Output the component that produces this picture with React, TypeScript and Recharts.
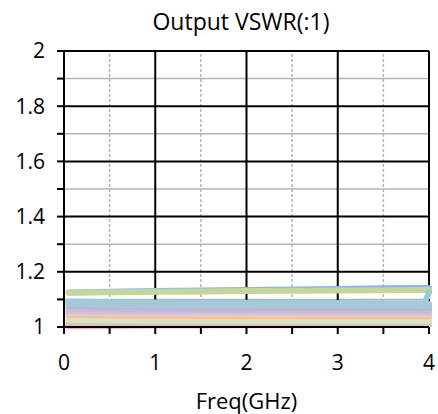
import { LineChart, Line, XAxis, YAxis, ReferenceLine } from "recharts";

const freq = [0.05, 0.5, 1, 1.5, 2, 2.5, 3, 3.5, 3.95, 4];

const SERIES = [
  { name: "s1", color: "#8eb4e3", values: [1.125, 1.128, 1.13, 1.132, 1.134, 1.136, 1.138, 1.14, 1.141, 1.141] },
  { name: "s2", color: "#c3d69b", values: [1.124, 1.126, 1.128, 1.129, 1.13, 1.131, 1.132, 1.133, 1.134, 1.134] },
  { name: "s3", color: "#e6b9b8", values: [1.003, 1.004, 1.005, 1.005, 1.006, 1.006, 1.007, 1.008, 1.008, 1.008] },
  { name: "s4", color: "#dcc3c2", values: [1.012, 1.011, 1.011, 1.012, 1.012, 1.013, 1.013, 1.014, 1.014, 1.014] },
  { name: "s5", color: "#d7e4bd", values: [1.026, 1.024, 1.023, 1.023, 1.022, 1.022, 1.022, 1.022, 1.022, 1.022] },
  { name: "s6", color: "#d9e2c6", values: [1.034, 1.032, 1.031, 1.03, 1.03, 1.029, 1.029, 1.029, 1.029, 1.029] },
  { name: "s7", color: "#fac090", values: [1.044, 1.042, 1.041, 1.04, 1.04, 1.04, 1.039, 1.039, 1.039, 1.039] },
  { name: "s8", color: "#e8c8c8", values: [1.05, 1.049, 1.048, 1.047, 1.047, 1.046, 1.046, 1.046, 1.046, 1.046] },
  { name: "s9", color: "#ccc1da", values: [1.058, 1.057, 1.056, 1.056, 1.055, 1.055, 1.055, 1.054, 1.054, 1.054] },
  { name: "s10", color: "#c7bcd8", values: [1.066, 1.065, 1.064, 1.064, 1.063, 1.063, 1.062, 1.062, 1.062, 1.062] },
  { name: "s11", color: "#b9b6d6", values: [1.075, 1.073, 1.072, 1.071, 1.071, 1.07, 1.07, 1.07, 1.07, 1.07] },
  { name: "s12", color: "#b0c4dc", values: [1.083, 1.081, 1.08, 1.079, 1.079, 1.078, 1.078, 1.078, 1.077, 1.077] },
  { name: "s13", color: "#93cddd", values: [1.092, 1.09, 1.089, 1.088, 1.088, 1.087, 1.087, 1.086, 1.086, 1.125] },
  { name: "s14", color: "#a5c9d9", values: [1.088, 1.087, 1.086, 1.085, 1.085, 1.084, 1.084, 1.083, 1.083, 1.083] },
];

const yTicks = [1, 1.1, 1.2, 1.3, 1.4, 1.5, 1.6, 1.7, 1.8, 1.9, 2];
const yMajor = [1.2, 1.4, 1.6, 1.8, 2];
const yMinor = [1.1, 1.3, 1.5, 1.7, 1.9];
const xTicks = [0, 0.5, 1, 1.5, 2, 2.5, 3, 3.5, 4];
const xMajor = [1, 2, 3, 4];
const xMinor = [0.5, 1.5, 2.5, 3.5];

const FONT = "'Open Sans', sans-serif";

const data = freq.map((f, i) => {
  const row: Record<string, number> = { freq: f };
  SERIES.forEach((s) => {
    row[s.name] = s.values[i];
  });
  return row;
});

export default function App() {
  return (
    <div style={{ position: "absolute", left: 0, top: 0, width: 438, height: 414, background: "#fff" }}>
      <div
        style={{
          position: "absolute",
          left: 0,
          top: 3,
          width: 482,
          textAlign: "center",
          fontFamily: FONT,
          fontSize: 23,
          lineHeight: "36px",
          color: "#000",
        }}
      >
        Output VSWR(:1)
      </div>
      <LineChart width={438} height={414} data={data} margin={{ top: 51, right: 9, left: 0, bottom: 0 }}>
        {yMinor.map((v) => (
          <ReferenceLine key={"ym" + v} y={v} stroke="#b4b4b4" strokeWidth={1.5} />
        ))}
        {xMinor.map((v) => (
          <ReferenceLine key={"xm" + v} x={v} stroke="#b4b4b4" strokeWidth={1.5} strokeDasharray="3 2" />
        ))}
        {yMajor.map((v) => (
          <ReferenceLine key={"yM" + v} y={v} stroke="#000" strokeWidth={2} />
        ))}
        {xMajor.map((v) => (
          <ReferenceLine key={"xM" + v} x={v} stroke="#000" strokeWidth={2} />
        ))}
        <XAxis
          dataKey="freq"
          type="number"
          domain={[0, 4]}
          ticks={xTicks}
          tickFormatter={(v: number) => (Number.isInteger(v) ? String(v) : "")}
          axisLine={{ stroke: "#000", strokeWidth: 2 }}
          tickLine={{ stroke: "#000", strokeWidth: 2 }}
          tickSize={7}
          tickMargin={21}
          height={87}
          tick={{ fill: "#000", fontSize: 21, fontFamily: FONT }}
          label={{ value: "Freq(GHz)", position: "insideBottom", offset: 5, fill: "#000", fontSize: 22, fontFamily: FONT }}
        />
        <YAxis
          type="number"
          domain={[1, 2]}
          ticks={yTicks}
          tickFormatter={(v: number) => (Math.round(v * 10) % 2 === 0 ? String(v) : "")}
          axisLine={{ stroke: "#000", strokeWidth: 2 }}
          tickLine={{ stroke: "#000", strokeWidth: 2 }}
          tickSize={7}
          tickMargin={12}
          width={64}
          tick={{ fill: "#000", fontSize: 21, fontFamily: FONT }}
        />
        {SERIES.map((s) => (
          <Line
            key={s.name}
            dataKey={s.name}
            stroke={s.color}
            strokeWidth={6}
            strokeLinecap="round"
            dot={false}
            activeDot={false}
            isAnimationActive={false}
          />
        ))}
      </LineChart>
    </div>
  );
}
